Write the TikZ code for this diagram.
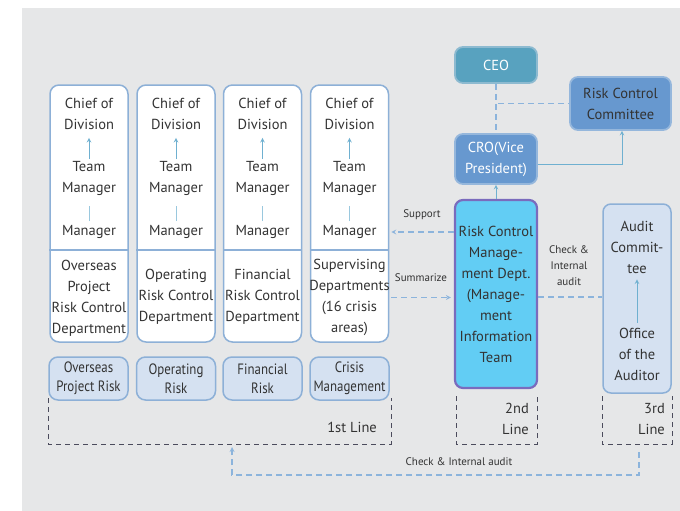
\documentclass[tikz,border=0pt]{standalone}
\usepackage{fontspec}
\setmainfont{PT Sans}
\newfontfamily\narrowfont{PT Sans}[FakeStretch=0.86]
\usepackage{tikz}
\usetikzlibrary{positioning}

\definecolor{bggray}{HTML}{E6E7E8}
\definecolor{boxblue}{HTML}{8DB0D7}
\definecolor{lightfill}{HTML}{D5E1F1}
\definecolor{txtdark}{HTML}{333333}
\definecolor{arrowteal}{HTML}{6FB0D0}
\definecolor{dashblue}{HTML}{8CB4DC}
\definecolor{framegray}{HTML}{4B4B5C}
\definecolor{ceoteal}{HTML}{58A2BF}
\definecolor{ceoedge}{HTML}{8DBAD0}
\definecolor{midblue}{HTML}{6798CF}
\definecolor{midedge}{HTML}{95B7DC}
\definecolor{rcmdcyan}{HTML}{62CDF4}
\definecolor{rcmdedge}{HTML}{7A6BBD}

\tikzset{
  colbox/.style={draw=boxblue, line width=1.5pt, fill=white, rounded corners=9pt, minimum width=78pt, minimum height=257pt},
  riskbox/.style={draw=boxblue, line width=1.5pt, fill=lightfill, rounded corners=9pt, minimum width=79pt, minimum height=43pt, align=center, text=txtdark, font=\narrowfont\fontsize{15}{19}\selectfont, inner sep=0pt},
  topbox/.style={line width=1.8pt, rounded corners=8pt, align=center, font=\fontsize{14.5}{21}\selectfont, inner sep=0pt},
  txt/.style={align=center, text=txtdark, font=\fontsize{14.5}{21}\selectfont, inner sep=0pt},
  small/.style={align=center, text=txtdark, font=\fontsize{11}{16}\selectfont, inner sep=0pt},
  uparrow/.style={->, draw=arrowteal, line width=1pt},
  flow/.style={draw=dashblue, line width=1.2pt, dash pattern=on 6pt off 4pt},
  lineframe/.style={draw=framegray, line width=1pt, dash pattern=on 5pt off 4pt},
}

\begin{document}
\begin{tikzpicture}[x=1pt, y=-1pt, >=stealth]
    \useasboundingbox (0,0) rectangle (680,511);
    \fill[bggray] (22,8) rectangle (680,511);

    % first line columns
    \node[colbox] (col1) at (89,213.5) {};
    \node[colbox] (col2) at (176,213.5) {};
    \node[colbox] (col3) at (262.5,213.5) {};
    \node[colbox] (col4) at (349.5,213.5) {};
    \draw[boxblue, line width=1.5pt] (col1.west |- 0,250) -- (col1.east |- 0,250);
    \draw[boxblue, line width=1.5pt] (col2.west |- 0,250) -- (col2.east |- 0,250);
    \draw[boxblue, line width=1.5pt] (col3.west |- 0,250) -- (col3.east |- 0,250);
    \draw[boxblue, line width=1.5pt] (col4.west |- 0,250) -- (col4.east |- 0,250);

    \node[txt] (chief1) at (89,114) {Chief of\\Division};
    \node[txt] (chief2) at (176,114) {Chief of\\Division};
    \node[txt] (chief3) at (262.5,114) {Chief of\\Division};
    \node[txt] (chief4) at (349.5,114) {Chief of\\Division};
    \node[txt] (team1) at (89,178.5) {Team\\Manager};
    \node[txt] (team2) at (176,178.5) {Team\\Manager};
    \node[txt] (team3) at (262.5,178.5) {Team\\Manager};
    \node[txt] (team4) at (349.5,178.5) {Team\\Manager};
    \node[txt] (man1) at (89,232) {Manager};
    \node[txt] (man2) at (176,232) {Manager};
    \node[txt] (man3) at (262.5,232) {Manager};
    \node[txt] (man4) at (349.5,232) {Manager};
    \node[txt] (dept1) at (89,298) {Overseas\\Project\\Risk Control\\Department};
    \node[txt] (dept2) at (176,297) {Operating\\Risk Control\\Department};
    \node[txt] (dept3) at (262.5,297) {Financial\\Risk Control\\Department};
    \node[txt] (dept4) at (349.5,297.5) {Supervising\\Departments\\(16 crisis\\areas)};

    \draw[uparrow, shorten <=2pt, shorten >=8pt] (team1) -- (chief1);
    \draw[uparrow, shorten <=2pt, shorten >=8pt] (team2) -- (chief2);
    \draw[uparrow, shorten <=2pt, shorten >=8pt] (team3) -- (chief3);
    \draw[uparrow, shorten <=2pt, shorten >=8pt] (team4) -- (chief4);
    \draw[arrowteal!70, line width=1pt, shorten <=4pt, shorten >=10pt] (man1) -- (team1);
    \draw[arrowteal!70, line width=1pt, shorten <=4pt, shorten >=10pt] (man2) -- (team2);
    \draw[arrowteal!70, line width=1pt, shorten <=4pt, shorten >=10pt] (man3) -- (team3);
    \draw[arrowteal!70, line width=1pt, shorten <=4pt, shorten >=10pt] (man4) -- (team4);

    \node[riskbox] (risk1) at (88.5,378.5) {Overseas\\Project Risk};
    \node[riskbox] (risk2) at (176,378.5) {Operating\\Risk};
    \node[riskbox] (risk3) at (262.5,378.5) {Financial\\Risk};
    \node[riskbox] (risk4) at (349.5,378.5) {Crisis\\Management};

    % top management
    \node[topbox, fill=ceoteal, draw=ceoedge, text=white, minimum width=82pt, minimum height=36pt] (ceo) at (496,65) {CEO};
    \node[topbox, fill=midblue, draw=midedge, text=txtdark, minimum width=101pt, minimum height=53pt] (rcc) at (620.5,103.5) {Risk Control\\Committee};
    \node[topbox, fill=midblue, draw=midedge, text=white, minimum width=82pt, minimum height=50pt] (cro) at (496,159) {CRO(Vice\\President)};
    \node[topbox, fill=rcmdcyan, draw=rcmdedge, line width=2.2pt, text=txtdark, minimum width=82pt, minimum height=188pt] (rcmd) at (496,294) {Risk Control\\Manage-\\ment Dept.\\(Manage-\\ment\\Information\\Team};
    \node[topbox, fill=lightfill, draw=boxblue, line width=1.5pt, minimum width=68pt, minimum height=189pt] (audit) at (637,298.5) {};
    \node[txt] (auditc) at (637,247) {Audit\\Commit-\\tee};
    \node[txt] (office) at (637,354) {Office\\of the\\Auditor};

    \draw[uparrow, shorten <=5pt, shorten >=6pt] (office) -- (auditc);
    \draw[flow] (ceo.south) -- (cro.north);
    \draw[flow] ([xshift=2pt]ceo.south |- rcc.west) -- (rcc.west);
    \draw[arrowteal, line width=1pt, ->] ([yshift=-5pt]cro.east) -| ([xshift=1.5pt]rcc.south);
    \draw[arrowteal, line width=1pt, ->] (rcmd.north) -- (cro.south);

    \draw[flow, ->] (rcmd.west |- man4) -- ([xshift=2pt]col4.east |- man4);
    \draw[flow, ->] ([xshift=2pt]col4.east |- dept4) -- ([xshift=-3pt]rcmd.west |- dept4);
    \draw[flow] ([yshift=-3pt]rcmd.east) -- ([yshift=-3pt]audit.west |- rcmd.east);
    \node[small] (support) at (422,215) {Support};
    \node[small] (summ) at (421,278) {Summarize};
    \node[small] (check) at (569,266) {Check \&\\Internal\\audit};

    % lines of defence
    \draw[lineframe] (48,398) -- (48,444) -- (391,444) -- (391,398);
    \draw[lineframe] (456,396) -- (456,444) -- (537,444) -- (537,396);
    \draw[lineframe] (602,396) -- (602,444) -- (672,444) -- (672,396);
    \node[txt, anchor=east] (line1) at (377,427) {1st Line};
    \node[txt, anchor=east, align=right] (line2) at (529,419) {2nd\\Line};
    \node[txt, anchor=east, align=right] (line3) at (665,419) {3rd\\Line};
    \coordinate (chkA) at (639,452);
    \coordinate (chkC) at (639,475);
    \coordinate (chkB) at (232,447);
    \draw[flow, ->] (chkA) -- (chkC) -| (chkB);
    \node[small] (chklbl) at (459,462) {Check \& Internal audit};
\end{tikzpicture}
\end{document}
